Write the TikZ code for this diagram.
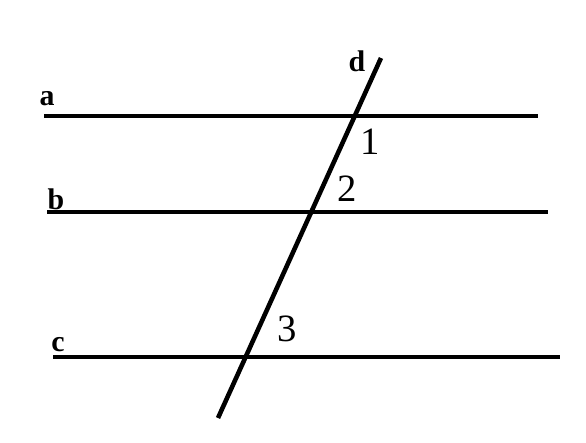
\documentclass[tikz,border=0pt]{standalone}
\usepackage{fontspec}
\setmainfont{Liberation Serif}
\begin{document}
\begin{tikzpicture}[x=0.02cm,y=-0.02cm,line width=2.6pt]
		\useasboundingbox (0,0) rectangle (586,443);
		\draw(44,116)--(538,116);
		\draw(47,212)--(548,212);
		\draw(53,357)--(560,357);
		\draw(218,418)--(381,58);
		\node[font=\fontsize{17}{20}\selectfont\bfseries] (la) at (47,99) {a};
		\node[font=\fontsize{17}{20}\selectfont\bfseries] (lb) at (56,199) {b};
		\node[font=\fontsize{17}{20}\selectfont\bfseries] (lc) at (58,345) {c};
		\node[font=\fontsize{17}{20}\selectfont\bfseries] (ld) at (357,61) {d};
		\node[font=\fontsize{22}{26}\selectfont] (n1) at (370,142) {1};
		\node[font=\fontsize{22}{26}\selectfont] (n2) at (347,189) {2};
		\node[font=\fontsize{22}{26}\selectfont] (n3) at (287,329) {3};
	    \end{tikzpicture}
\end{document}
